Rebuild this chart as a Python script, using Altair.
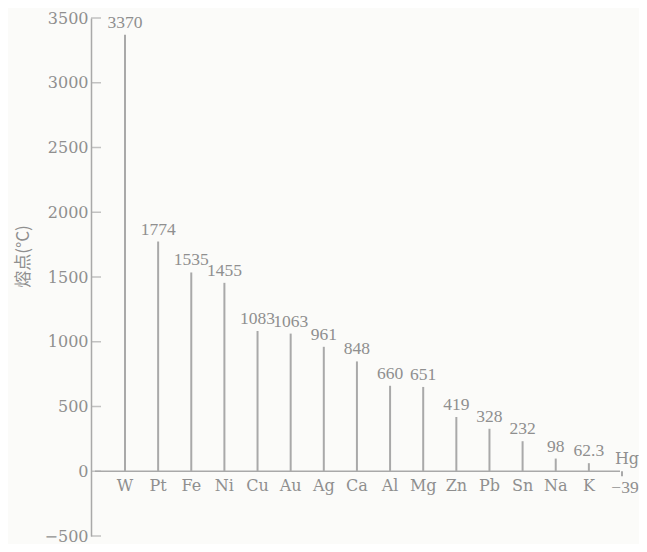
import altair as alt
import pandas as pd

elements = ["W", "Pt", "Fe", "Ni", "Cu", "Au", "Ag", "Ca", "Al", "Mg", "Zn", "Pb", "Sn", "Na", "K", "Hg"]
melting = [3370, 1774, 1535, 1455, 1083, 1063, 961, 848, 660, 651, 419, 328, 232, 98, 62.3, -39]
value_labels = ["3370", "1774", "1535", "1455", "1083", "1063", "961", "848", "660", "651",
                "419", "328", "232", "98", "62.3", "\u221239"]
y_ticks = [3500, 3000, 2500, 2000, 1500, 1000, 500, 0, -500]

LINE = "#a9a9a9"
TEXT = "#8f8f8f"
SERIF = "DejaVu Serif"
VAL_FONT = "Liberation Serif"

df = pd.DataFrame({"element": elements, "mp": melting, "label": value_labels})
ticks_df = pd.DataFrame({"mp": y_ticks})
zero_df = pd.DataFrame({"mp": [0]})

x_enc = alt.X("element:N", sort=elements,
              scale=alt.Scale(type="point", range=[34, 531], padding=0), axis=None)
y_scale = alt.Scale(domain=[-500, 3500], nice=False, zero=False)

base = alt.Chart(df)

bars = base.mark_rule(color=LINE, strokeWidth=2).encode(
    x=x_enc,
    y=alt.Y("mp:Q", scale=y_scale,
            axis=alt.Axis(values=y_ticks, format="d", ticks=False, grid=False,
                          domainColor=LINE, domainWidth=1.5,
                          labelFont=SERIF, labelFontSize=16, labelColor=TEXT,
                          labelPadding=3,
                          title="熔点(°C)", titleFont="Noto Sans CJK SC",
                          titleFontSize=17, titleFontWeight="normal",
                          titleColor=TEXT, titleX=-68, titleY=238,
                          titleAlign="center", titleBaseline="middle")),
    y2=alt.datum(0),
)

pos = base.transform_filter("datum.mp >= 0")
neg = base.transform_filter("datum.mp < 0")

val_pos = pos.mark_text(baseline="bottom", dy=-3, font=VAL_FONT, fontSize=17.5, color=TEXT).encode(
    x=x_enc, y=alt.Y("mp:Q"), text="label:N")
name_pos = pos.mark_text(baseline="top", dy=7, font=SERIF, fontSize=16, color=TEXT).encode(
    x=x_enc, y=alt.datum(0), text="element:N")
val_neg = neg.mark_text(baseline="top", dy=3, dx=3, font=VAL_FONT, fontSize=17.5, color=TEXT).encode(
    x=x_enc, y=alt.Y("mp:Q"), text="label:N")
name_neg = neg.mark_text(baseline="bottom", dy=-4, dx=5, font=SERIF, fontSize=16, color=TEXT).encode(
    x=x_enc, y=alt.datum(0), text="element:N")

axis_line = alt.Chart(zero_df).mark_rule(color=LINE, strokeWidth=1.5).encode(
    y=alt.Y("mp:Q"), x=alt.value(4), x2=alt.value(529))

ticks = alt.Chart(ticks_df).mark_tick(color=LINE, thickness=1.5, size=10, orient="horizontal").encode(
    y=alt.Y("mp:Q"), x=alt.value(5))

chart = alt.layer(bars, axis_line, ticks, val_pos, name_pos, val_neg, name_neg).properties(
    width=548, height=518,
    autosize=alt.AutoSizeParams(type="none"),
    padding={"left": 83, "top": 10, "right": 0, "bottom": 8},
    background="#fbfbf9",
).configure_view(stroke=None)

chart.save("out.html", embed_options={"renderer": "svg", "actions": False})
